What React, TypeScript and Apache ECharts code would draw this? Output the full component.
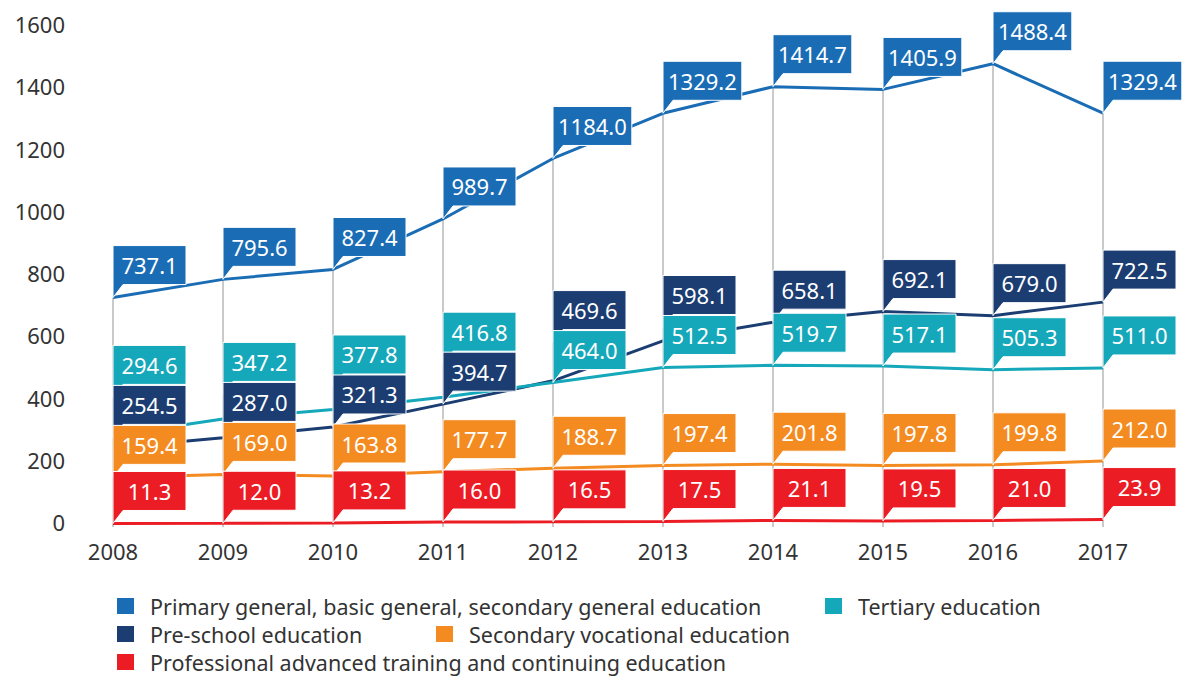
import React, { useEffect, useRef } from "react";
import * as echarts from "echarts";

const years = ["2008", "2009", "2010", "2011", "2012", "2013", "2014", "2015", "2016", "2017"];
const primaryGeneral = [737.1, 795.6, 827.4, 989.7, 1184.0, 1329.2, 1414.7, 1405.9, 1488.4, 1329.4];
const preSchool = [254.5, 287.0, 321.3, 394.7, 469.6, 598.1, 658.1, 692.1, 679.0, 722.5];
const tertiary = [294.6, 347.2, 377.8, 416.8, 464.0, 512.5, 519.7, 517.1, 505.3, 511.0];
const secondaryVocational = [159.4, 169.0, 163.8, 177.7, 188.7, 197.4, 201.8, 197.8, 199.8, 212.0];
const professional = [11.3, 12.0, 13.2, 16.0, 16.5, 17.5, 21.1, 19.5, 21.0, 23.9];
const yTicks = { min: 0, max: 1600, interval: 200 };

const SERIES = [
  { name: "Primary general, basic general, secondary general education", data: primaryGeneral, color: "#1a6db5" },
  { name: "Pre-school education", data: preSchool, color: "#1b3d72" },
  { name: "Tertiary education", data: tertiary, color: "#15a8ba" },
  { name: "Secondary vocational education", data: secondaryVocational, color: "#f48b21" },
  { name: "Professional advanced training and continuing education", data: professional, color: "#ec1c24" },
];

const FONT = '"Noto Sans", "Open Sans", sans-serif';
const LABEL_FONT_SIZE = 22;
const BOX_H = 39;
const TAIL = 13;
const GAP = 1;
const MIN_W = 73;

export default function App() {
  const ref = useRef<HTMLDivElement>(null);
  useEffect(() => {
    document.body.style.margin = "0";
    if (!ref.current) return;
    const chart = echarts.init(ref.current, undefined, { renderer: "svg" });

    const canvas = document.createElement("canvas");
    const ctx = canvas.getContext("2d");
    const measure = (t: string) => {
      if (!ctx) return t.length * 12;
      ctx.font = `${LABEL_FONT_SIZE}px ${FONT}`;
      return ctx.measureText(t).width;
    };

    const legendPlacement = [
      { idx: 0, left: 117, top: 595 },
      { idx: 2, left: 825, top: 595 },
      { idx: 1, left: 117, top: 623 },
      { idx: 3, left: 436, top: 623 },
      { idx: 4, left: 117, top: 651 },
    ];

    const labelData: number[][] = [];
    years.forEach((_, i) => SERIES.forEach((s, k) => labelData.push([i, s.data[i], k])));

    const option: any = {
      animation: false,
      grid: { left: 113, right: 80, top: 29, bottom: 150 },
      xAxis: {
        type: "category",
        data: years,
        boundaryGap: false,
        axisLine: { show: false },
        axisTick: { show: false },
        splitLine: { show: false },
        axisLabel: { fontSize: 22, color: "#333", fontFamily: FONT, margin: 13 },
      },
      yAxis: {
        type: "value",
        min: yTicks.min,
        max: yTicks.max,
        interval: yTicks.interval,
        axisLine: { show: false },
        axisTick: { show: false },
        splitLine: { show: false },
        axisLabel: {
          fontSize: 22,
          color: "#333",
          fontFamily: FONT,
          margin: 48,
          formatter: (v: number) => `{t|${v}}`,
          rich: {
            t: { fontSize: 22, color: "#333", fontFamily: FONT, padding: [0, 0, 10, 0] },
          },
        },
      },
      legend: legendPlacement.map((p) => ({
        data: [SERIES[p.idx].name],
        left: p.left,
        top: p.top,
        padding: 0,
        icon: "rect",
        itemWidth: 17,
        itemHeight: 16,
        selectedMode: false,
        textStyle: { fontSize: 21.5, color: "#333", fontFamily: FONT, lineHeight: 16, padding: [0, 0, 0, 11] },
      })),
      series: [
        {
          type: "custom",
          name: "drop",
          silent: true,
          z: 1,
          data: years.map((_, i) => [i, Math.max(...SERIES.map((s) => s.data[i]))]),
          renderItem: (params: any, api: any) => {
            const i = api.value(0);
            const p1 = api.coord([i, api.value(1)]);
            const p0 = api.coord([i, 0]);
            return {
              type: "line",
              shape: { x1: p1[0], y1: p1[1], x2: p0[0], y2: p0[1] },
              style: { stroke: "#cacaca", lineWidth: 2 },
            };
          },
        },
        ...SERIES.map((s) => ({
          type: "line",
          name: s.name,
          data: s.data,
          symbol: "none",
          showSymbol: false,
          z: 2,
          color: s.color,
          lineStyle: { width: 3, color: s.color },
        })),
        {
          type: "custom",
          name: "labels",
          silent: true,
          z: 3,
          clip: false,
          data: labelData,
          renderItem: (params: any, api: any) => {
            const col = api.value(0);
            const k = api.value(2);
            const items = SERIES.map((s, idx) => ({
              idx,
              v: s.data[col],
              y: api.coord([col, s.data[col]])[1],
            })).sort((a, b) => a.v - b.v);
            let limit = Infinity;
            let bottom = 0;
            let rank = 0;
            items.forEach((it, r) => {
              const b = Math.min(it.y - TAIL, limit);
              if (it.idx === k) {
                bottom = b;
                rank = r;
              }
              limit = b - BOX_H - GAP;
            });
            const x = api.coord([col, 0])[0];
            const s = SERIES[k];
            const text = s.data[col].toFixed(1);
            const w = Math.max(MIN_W, measure(text) + 10);
            const top = bottom - BOX_H;
            const z2 = 100 - rank * 4;
            return {
              type: "group",
              children: [
                {
                  type: "polygon",
                  z2,
                  shape: {
                    points: [
                      [x, top],
                      [x + w, top],
                      [x + w, bottom],
                      [x + 10, bottom],
                      [x, bottom + TAIL],
                    ],
                  },
                  style: { fill: s.color, stroke: "#ffffff", lineWidth: 1 },
                },
                {
                  type: "text",
                  z2: z2 + 1,
                  style: {
                    text,
                    x: x + w / 2,
                    y: top + BOX_H / 2,
                    align: "center",
                    verticalAlign: "middle",
                    fill: "#ffffff",
                    fontSize: LABEL_FONT_SIZE,
                    fontFamily: FONT,
                  },
                },
              ],
            };
          },
        },
      ],
    };
    chart.setOption(option);
    return () => chart.dispose();
  }, []);
  return <div ref={ref} style={{ width: 1183, height: 677 }} />;
}
